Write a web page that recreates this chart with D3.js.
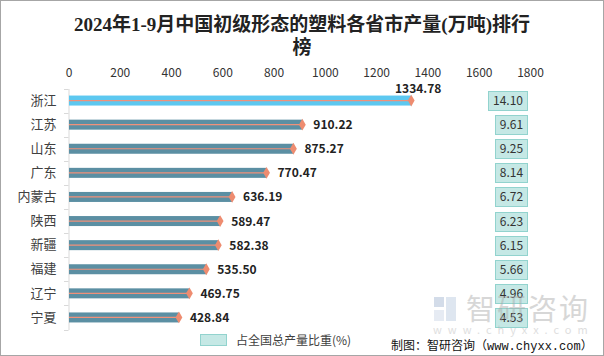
<!DOCTYPE html>
<html><head><meta charset="utf-8">
<script src="https://cdn.jsdelivr.net/npm/d3@7/dist/d3.min.js"></script>
<style>body{margin:0;background:#fff}svg{display:block}</style>
</head><body>
<script>
const categories = ["浙江","江苏","山东","广东","内蒙古","陕西","新疆","福建","辽宁","宁夏"];
const values = [1334.78,910.22,875.27,770.47,636.19,589.47,582.38,535.50,469.75,428.84];
const shares = ["14.10","9.61","9.25","8.14","6.72","6.23","6.15","5.66","4.96","4.53"];
const ticks = [0,200,400,600,800,1000,1200,1400,1600,1800];
const title1 = "2024年1-9月中国初级形态的塑料各省市产量(万吨)排行";
const title2 = "榜";
const legendLabel = "占全国总产量比重(%)";
const sourceParts = [["制图：智研咨询（","cjk"],["www.chyxx.com","mono"],["）","cjk"]];

const W=604,H=356;
const svg=d3.select("body").append("svg").attr("width",W).attr("height",H);
svg.append("rect").attr("x",0.5).attr("y",0.5).attr("width",W-1).attr("height",H-1).attr("fill","#fff").attr("stroke","#a6a6a6");

const cjk='"Noto Sans CJK SC","Noto Sans",sans-serif';
const serif='"Liberation Serif","DejaVu Serif","Noto Sans CJK SC",serif';
const mono='"Liberation Mono","DejaVu Sans Mono",monospace';

svg.append("text").attr("x",302).attr("y",31).attr("text-anchor","middle")
  .attr("font-family",serif).attr("font-weight","bold").attr("font-size",19).attr("fill","#222").text(title1);
svg.append("text").attr("x",302).attr("y",54).attr("text-anchor","middle")
  .attr("font-family",serif).attr("font-weight","bold").attr("font-size",19).attr("fill","#222").text(title2);

const x=d3.scaleLinear().domain([0,1800]).range([69,530.5]);
const y=d3.scaleBand().domain(categories).range([88.5,329.5]);

// top tick labels
svg.append("g").selectAll("text").data(ticks).join("text")
  .attr("x",d=>x(d)).attr("y",77).attr("text-anchor","middle")
  .attr("font-family",cjk).attr("font-size",12).attr("fill","#333").text(d=>d);

// y axis
const yAxis=d3.axisLeft(y).tickSize(0).tickPadding(12);
const gy=svg.append("g").attr("transform","translate(68.5,0)").call(yAxis);
gy.select(".domain").attr("stroke","#d9d9d9");
gy.selectAll("text").attr("font-family",cjk).attr("font-size",13).attr("fill","#404040");
const bounds=categories.map(c=>y(c)).concat([y.range()[1]]);
svg.append("g").selectAll("line").data(bounds).join("line")
  .attr("x1",64).attr("x2",68.5).attr("y1",d=>Math.round(d)+0.5).attr("y2",d=>Math.round(d)+0.5)
  .attr("stroke","#d9d9d9");

const bh=10;
const rows=svg.append("g").selectAll("g").data(categories).join("g");
rows.append("rect").attr("x",x(0)).attr("y",d=>y(d)+y.bandwidth()/2-bh/2)
  .attr("width",(d,i)=>x(values[i])-x(0)).attr("height",bh)
  .attr("fill",(d,i)=>i===0?"#5DC8F0":"#5B8FA3");
rows.append("line").attr("x1",x(0)).attr("x2",(d,i)=>x(values[i]))
  .attr("y1",d=>y(d)+y.bandwidth()/2).attr("y2",d=>y(d)+y.bandwidth()/2)
  .attr("stroke","#F0917A").attr("stroke-width",1.2);
rows.append("path").attr("d",d3.symbol(d3.symbolDiamond,40))
  .attr("transform",(d,i)=>`translate(${x(values[i])},${y(d)+y.bandwidth()/2})`)
  .attr("fill","#EE8C70");
rows.append("text")
  .attr("x",(d,i)=>i===0?x(values[i])+7:x(values[i])+11)
  .attr("y",(d,i)=>i===0?y(d)+y.bandwidth()/2-8:y(d)+y.bandwidth()/2+4.5)
  .attr("text-anchor",(d,i)=>i===0?"middle":"start")
  .attr("font-family",cjk).attr("font-weight","bold").attr("font-size",12).attr("fill","#222")
  .text((d,i)=>values[i].toFixed(2));

// share boxes
const boxes=svg.append("g").selectAll("g").data(categories).join("g");
boxes.each(function(d,i){
  const g=d3.select(this);
  const cy=y(d)+y.bandwidth()/2;
  const r=g.append("rect");
  const t=g.append("text").attr("font-family",cjk).attr("font-size",12).attr("fill","#333")
    .attr("text-anchor","middle").text(shares[i]);
  const tw=t.node().getComputedTextLength();
  const bw=Math.round(tw+9);
  r.attr("x",527.5-bw).attr("y",Math.round(cy-9.5)+0.5).attr("width",bw).attr("height",19)
    .attr("fill","#C5E8E5").attr("stroke","#92D3CE");
  t.attr("x",527.5-bw/2).attr("y",cy+4.5);
});

// legend
svg.append("rect").attr("x",200.5).attr("y",334.5).attr("width",26).attr("height",11)
  .attr("fill","#C5E8E5").attr("stroke","#92D3CE");
svg.append("text").attr("x",236).attr("y",344.5).attr("font-family",cjk).attr("font-size",12)
  .attr("fill","#404040").text(legendLabel);

// watermark
const wm=svg.append("g").attr("opacity",0.45);
wm.append("rect").attr("x",434).attr("y",297).attr("width",10).attr("height",10).attr("fill","#9fb3cf");
wm.append("rect").attr("x",446).attr("y",297).attr("width",10).attr("height",24).attr("fill","#b8c8de");
wm.append("rect").attr("x",434).attr("y",310).attr("width",10).attr("height",11).attr("fill","#c9d5e6");
wm.append("text").attr("x",466).attr("y",320).attr("font-family",cjk).attr("font-size",29)
  .attr("fill","#a8a8a8").attr("letter-spacing",2).text("智研咨询");
wm.append("text").attr("x",433).attr("y",334).attr("font-family",cjk).attr("font-size",11)
  .attr("fill","#b8b8b8").attr("letter-spacing",6).text("www.chyxx.com");

const src=svg.append("text").attr("x",391).attr("y",350).attr("font-size",12).attr("fill","#111");
sourceParts.forEach(([s,f])=>src.append("tspan").attr("font-family",f==="mono"?mono:cjk).text(s));
</script>
</body></html>
